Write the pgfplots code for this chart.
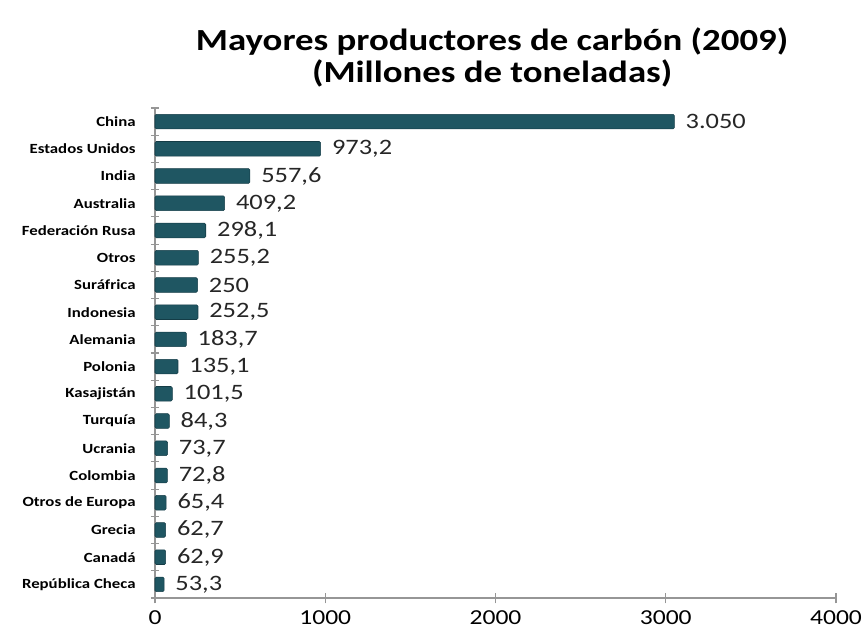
\documentclass[border=0pt]{standalone}
\usepackage{pgfplots}
\pgfplotsset{compat=1.18}
\usepackage{fontspec}
\setmainfont{Carlito}
\newfontfamily\wide[FakeStretch=1.2]{Carlito}
\definecolor{bar}{RGB}{31,86,98}
\definecolor{bardark}{RGB}{20,60,70}
\definecolor{axgray}{RGB}{150,150,150}
\begin{document}
\begin{tikzpicture}
\path[use as bounding box] (-116.25pt,-33pt) rectangle ++(646.5pt,481.5pt);
\begin{axis}[
  at={(0,0)}, anchor=south west,
  scale only axis,
  width=510.75pt, height=367.5pt,
  xbar, bar width=11pt,
  xmin=0, xmax=4000,
  ymin=-0.5, ymax=17.5,
  axis lines*=left,
  axis line style={-, axgray, line width=1.2pt},
  every outer x axis line/.append style={-},
  every outer y axis line/.append style={-},
  xtick={0,1000,2000,3000,4000},
  x tick label style={font=\wide\fontsize{16}{16}\selectfont, yshift=-2pt},
  /pgf/number format/assume math mode=true,
  /pgf/number format/set thousands separator={},
  ytick={0,...,17},
  yticklabels={República Checa,Canadá,Grecia,Otros de Europa,Colombia,Ucrania,Turquía,Kasajistán,Polonia,Alemania,Indonesia,Suráfrica,Otros,Federación Rusa,Australia,India,Estados Unidos,China},
  y tick label style={font=\wide\bfseries\fontsize{10.5}{11}\selectfont, xshift=-7pt},
  major y tick style={draw=none},
  minor ytick={-0.5,0.5,...,17.5},
  minor y tick style={axgray, line width=0.8pt},
  minor tick length=6pt,
  major x tick style={axgray, line width=1pt},
  major tick length=8pt,
  xtick align=center,
  ytick align=center,
  nodes near coords,
  nodes near coords align={horizontal},
  point meta=explicit symbolic,
  every node near coord/.append style={font=\wide\fontsize{16.5}{16.5}\selectfont, color=black!85, anchor=west, xshift=5pt},
  clip=false,
]
\addplot[fill=bar, draw=bardark, rounded corners=1pt] coordinates {
(53.3,0) [53,3]
(62.9,1) [62,9]
(62.7,2) [62,7]
(65.4,3) [65,4]
(72.8,4) [72,8]
(73.7,5) [73,7]
(84.3,6) [84,3]
(101.5,7) [101,5]
(135.1,8) [135,1]
(183.7,9) [183,7]
(252.5,10) [252,5]
(250,11) [250]
(255.2,12) [255,2]
(298.1,13) [298,1]
(409.2,14) [409,2]
(557.6,15) [557,6]
(973.2,16) [973,2]
(3050,17) [3.050]
};
\node[anchor=south, align=center, font=\wide\bfseries\fontsize{23}{24}\selectfont, yshift=12pt] at (rel axis cs:0.495,1) {Mayores productores de carbón (2009)\\(Millones de toneladas)};
\end{axis}
\end{tikzpicture}
\end{document}
